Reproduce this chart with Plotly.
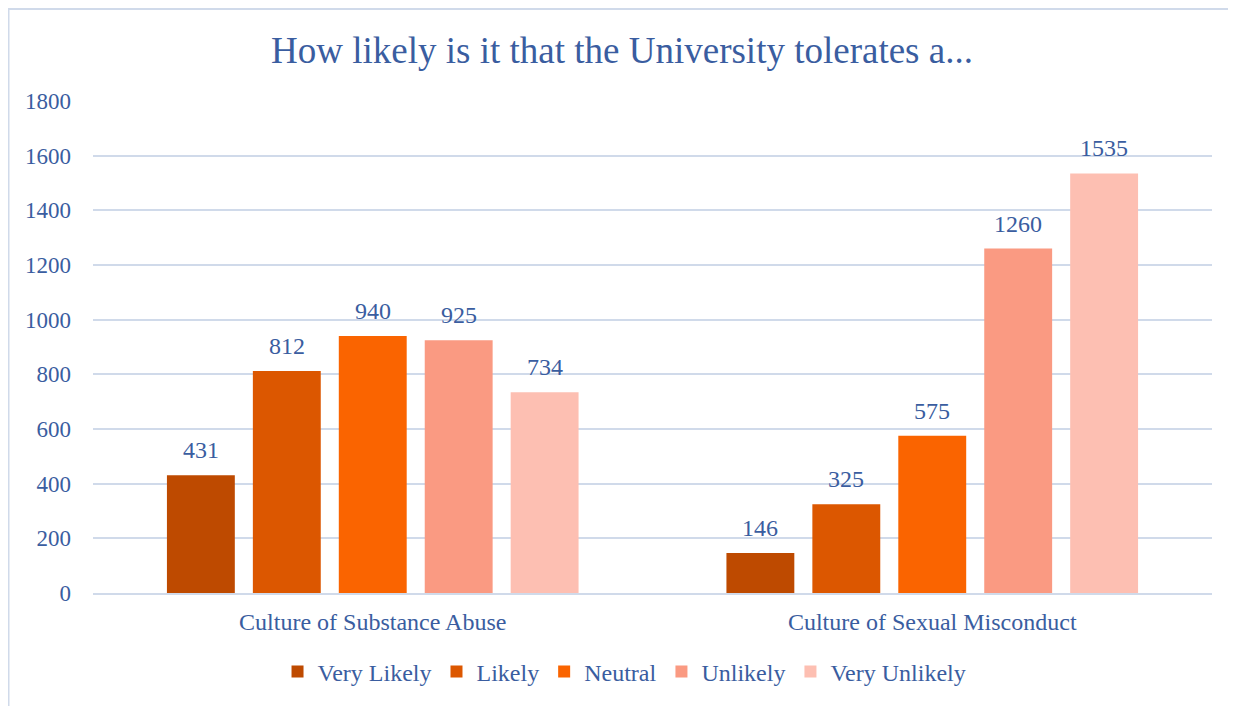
import plotly.graph_objects as go

categories = ["Culture of Substance Abuse", "Culture of Sexual Misconduct"]
responses = ["Very Likely", "Likely", "Neutral", "Unlikely", "Very Unlikely"]
very_likely = [431, 146]
likely = [812, 325]
neutral = [940, 575]
unlikely = [925, 1260]
very_unlikely = [734, 1535]
y_ticks = [0, 200, 400, 600, 800, 1000, 1200, 1400, 1600, 1800]

series = [very_likely, likely, neutral, unlikely, very_unlikely]
colors = ["#BE4A00", "#DC5700", "#FA6400", "#FA9A82", "#FDBFB2"]
text_color = "#3A5DA0"
font_family = "Liberation Serif, Times New Roman, serif"

bargap = 0.232
fig = go.Figure()
for name, vals, col in zip(responses, series, colors):
    fig.add_trace(go.Bar(
        x=categories, y=vals, name=name,
        marker=dict(color=col, line=dict(width=0)),
    ))

# value labels above each bar, placed at the centre of each bar slot
slot = (1 - bargap) / len(series)
for i, vals in enumerate(series):
    for j, v in enumerate(vals):
        fig.add_annotation(
            x=j + (i - (len(series) - 1) / 2) * slot, y=v, xref="x", yref="y",
            text=str(v), showarrow=False, yanchor="bottom", yshift=10,
            font=dict(size=24, color=text_color, family=font_family),
        )

fig.update_layout(
    width=1228, height=698,
    margin=dict(l=85, r=24, t=93, b=113),
    paper_bgcolor="white", plot_bgcolor="white",
    font=dict(family=font_family, color=text_color, size=23),
    title=dict(text="How likely is it that the University tolerates a...",
               x=0.5, xanchor="center", y=0.94, yanchor="middle",
               font=dict(size=37, color=text_color, family=font_family)),
    barmode="group", bargap=bargap, bargroupgap=0.21,
    showlegend=True,
    legend=dict(orientation="h", x=0.475, xanchor="center", y=-0.1606, yanchor="middle",
                font=dict(size=24, color=text_color), itemwidth=30,
                traceorder="normal"),
    shapes=[dict(type="rect", xref="paper", yref="paper",
                 x0=-0.0755, x1=1.05, y0=-0.3, y1=1.187,
                 line=dict(color="#D0DAEA", width=2), layer="below")],
)
fig.update_xaxes(showline=True, linecolor="#D0DAEA", linewidth=2,
                 tickfont=dict(size=24, color=text_color), ticklabelstandoff=6)
fig.update_yaxes(range=[0, 1800], tickvals=y_ticks, showgrid=True,
                 gridcolor="#D0DAEA", gridwidth=2, zeroline=False,
                 tickfont=dict(size=23, color=text_color), ticklabelstandoff=21)

fig.write_html("out.html")
